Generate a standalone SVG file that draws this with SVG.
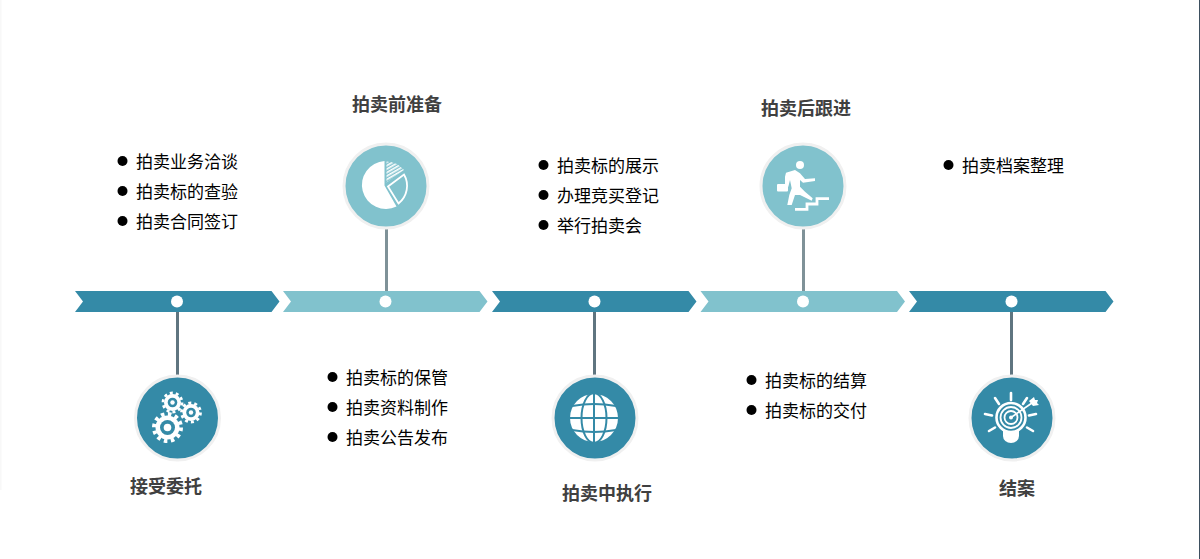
<svg xmlns="http://www.w3.org/2000/svg" width="1200" height="559" viewBox="0 0 1200 559">
<style>
.dark{fill:#348aa7}.light{fill:#81c2cd}
.dot{fill:#fff}
.ring{stroke:#f0f0f0;stroke-width:3}
.conn{stroke-width:3;fill:none}
.t{font-family:"Noto Sans CJK SC","Liberation Sans",sans-serif;font-size:17px;fill:#000}
.h{font-family:"Noto Sans CJK SC","Liberation Sans",sans-serif;font-size:18px;font-weight:700;fill:#404040;text-anchor:middle}
.w{fill:#fff}.ws{stroke:#fff;fill:none}
.teeth{fill:none;stroke:#fff}
</style>
<defs>
<polygon id="chev" points="0,0 196.500,0 204.500,10.500 196.500,21 0,21 8,10.500"/>
<pattern id="hatch" width="3" height="3" patternUnits="userSpaceOnUse" patternTransform="rotate(-30)">
<rect width="3" height="1.600" fill="#fff"/>
</pattern>
</defs>
<rect width="1200" height="559" fill="#fff"/>
<rect x="0" y="0" width="1.500" height="490" fill="#f8f8f8"/>
<rect x="1199" y="0" width="1" height="559" fill="#3d4f5f"/>
<g id="band">
<use href="#chev" x="75" y="291" class="dark"/>
<use href="#chev" x="283" y="291" class="light"/>
<use href="#chev" x="492" y="291" class="dark"/>
<use href="#chev" x="700.500" y="291" class="light"/>
<use href="#chev" x="909" y="291" class="dark"/>
<circle class="dot" cx="177" cy="301.500" r="6"/>
<circle class="dot" cx="385.500" cy="301.500" r="6"/>
<circle class="dot" cx="594.500" cy="301.500" r="6"/>
<circle class="dot" cx="803" cy="301.500" r="6"/>
<circle class="dot" cx="1011.500" cy="301.500" r="6"/>
</g>
<g id="connectors">
<line class="conn" x1="177.500" y1="312" x2="177.500" y2="376" stroke="#5f7580"/>
<line class="conn" x1="386.500" y1="229" x2="386.500" y2="291" stroke="#7f9298"/>
<line class="conn" x1="594.500" y1="312" x2="594.500" y2="376" stroke="#5f7580"/>
<line class="conn" x1="803.500" y1="229" x2="803.500" y2="291" stroke="#7f9298"/>
<line class="conn" x1="1011.500" y1="312" x2="1011.500" y2="376" stroke="#5f7580"/>
</g>
<g id="node1">
<circle class="dark ring" cx="177.500" cy="418" r="42"/>
<g>
<circle class="w" cx="167.500" cy="427.500" r="12"/>
<circle class="teeth" cx="167.500" cy="427.500" r="13.500" stroke-width="4" stroke-dasharray="3.530 3.540"/>
<circle class="dark" cx="167.500" cy="427.500" r="7.500"/>
<circle class="w" cx="167.500" cy="427.500" r="3.800"/>
<circle class="w" cx="172.500" cy="402.500" r="8.500"/>
<circle class="teeth" cx="172.500" cy="402.500" r="9.500" stroke-width="2.800" stroke-dasharray="2.980 2.990"/>
<circle class="dark" cx="172.500" cy="402.500" r="4.800"/>
<circle class="w" cx="172.500" cy="402.500" r="2.200"/>
<circle class="w" cx="191" cy="412.500" r="8.500"/>
<circle class="teeth" cx="191" cy="412.500" r="9.500" stroke-width="2.800" stroke-dasharray="2.980 2.990"/>
<circle class="dark" cx="191" cy="412.500" r="4.800"/>
<circle class="w" cx="191" cy="412.500" r="2.200"/>
</g>
</g>
<g id="node2">
<circle class="light ring" cx="386" cy="186" r="42"/>
<path class="w" d="M384.500,161 V185.500 L396.500,206.500 A24,24 0 1 1 384.500,161 Z"/>
<path d="M386.500,161.500 A24,24 0 0 1 404,170 L386.500,182.500 Z" fill="url(#hatch)"/>
<path class="ws" stroke-width="1.800" d="M388,186.500 L404,174.500 A22.500,22.500 0 0 1 398.500,203.500 Z"/>
</g>
<g id="node3">
<circle class="dark ring" cx="595" cy="418" r="42"/>
<circle class="w" cx="594" cy="418" r="24"/>
<g fill="none" stroke="#348aa7" stroke-width="2">
<line x1="594" y1="393" x2="594" y2="443"/>
<ellipse cx="594" cy="418" rx="12.500" ry="25"/>
<line x1="569" y1="418" x2="619" y2="418"/>
<path d="M572,406 Q594,402 616,406"/>
<path d="M572,430 Q594,434 616,430"/>
</g>
</g>
<g id="node4">
<circle class="light ring" cx="803" cy="186" r="42"/>
<circle class="w" cx="800" cy="165" r="4"/>
<path class="w" d="M785,176.700 L786,172.700 L795,170 L800,173.300 L805,179 L815,178.300 L815,181 L803,182.700 L800,180 L800,186.700 L805,191.700 L812.700,198.300 L811.700,200.700 L800,195 L795,195 L791.700,205 L787.300,205 L789.300,195 L791.700,188.300 L790,180 L788.300,186.700 L785,186 Z"/>
<rect class="w" x="777" y="184" width="11" height="7.500" rx="1"/>
<polyline class="ws" stroke-width="2.800" points="795,209.300 807,209.300 807,204 817,204 817,198.700 829,198.700"/>
</g>
<g id="node5">
<circle class="dark ring" cx="1012" cy="418" r="42"/>
<g class="ws" stroke-width="2.600" stroke-linecap="round">
<line x1="1011" y1="393" x2="1011" y2="400"/>
<line x1="995" y1="398" x2="999" y2="404"/>
<line x1="1027" y1="398" x2="1023" y2="404"/>
<line x1="985" y1="414" x2="992" y2="415.500"/>
<line x1="1036" y1="414" x2="1029" y2="415.500"/>
<line x1="989" y1="431" x2="995" y2="427.500"/>
<line x1="1033" y1="431" x2="1027" y2="427.500"/>
</g>
<path class="w" d="M1003,431 L1019,431 L1019,436 A8,7 0 0 1 1003,436 Z"/>
<circle class="ws" cx="1011" cy="417.500" r="14.500" stroke-width="2.600"/>
<circle class="ws" cx="1011" cy="417.500" r="10.500" stroke-width="1.800"/>
<circle class="ws" cx="1011" cy="417.500" r="6.500" stroke-width="1.800"/>
<circle class="w" cx="1011" cy="417.500" r="2"/>
<line x1="1011" y1="417.500" x2="1032" y2="403" stroke="#fff" stroke-width="1.600"/>
<path class="w" d="M1029,401 L1034,397 L1035,400 L1038,400 L1037,403 L1039,405 L1033,406 Z"/>
</g>
<g id="labels">
<text class="h" x="166" y="493">接受委托</text>
<text class="h" x="397" y="111">拍卖前准备</text>
<text class="h" x="607" y="500">拍卖中执行</text>
<text class="h" x="806" y="115">拍卖后跟进</text>
<text class="h" x="1017" y="495">结案</text>
</g>
<g id="list1">
<circle cx="122.500" cy="161" r="5"/><text class="t" x="136" y="168">拍卖业务洽谈</text>
<circle cx="122.500" cy="191" r="5"/><text class="t" x="136" y="198">拍卖标的查验</text>
<circle cx="122.500" cy="221" r="5"/><text class="t" x="136" y="228">拍卖合同签订</text>
</g>
<g id="list2">
<circle cx="332.500" cy="377" r="5"/><text class="t" x="346" y="384">拍卖标的保管</text>
<circle cx="332.500" cy="407" r="5"/><text class="t" x="346" y="414">拍卖资料制作</text>
<circle cx="332.500" cy="437" r="5"/><text class="t" x="346" y="444">拍卖公告发布</text>
</g>
<g id="list3">
<circle cx="543.500" cy="165" r="5"/><text class="t" x="557" y="172">拍卖标的展示</text>
<circle cx="543.500" cy="195" r="5"/><text class="t" x="557" y="202">办理竞买登记</text>
<circle cx="543.500" cy="225" r="5"/><text class="t" x="557" y="232">举行拍卖会</text>
</g>
<g id="list4">
<circle cx="751.500" cy="380" r="5"/><text class="t" x="765" y="387">拍卖标的结算</text>
<circle cx="751.500" cy="410" r="5"/><text class="t" x="765" y="417">拍卖标的交付</text>
</g>
<g id="list5">
<circle cx="948.500" cy="165" r="5"/><text class="t" x="962" y="172">拍卖档案整理</text>
</g>
</svg>
